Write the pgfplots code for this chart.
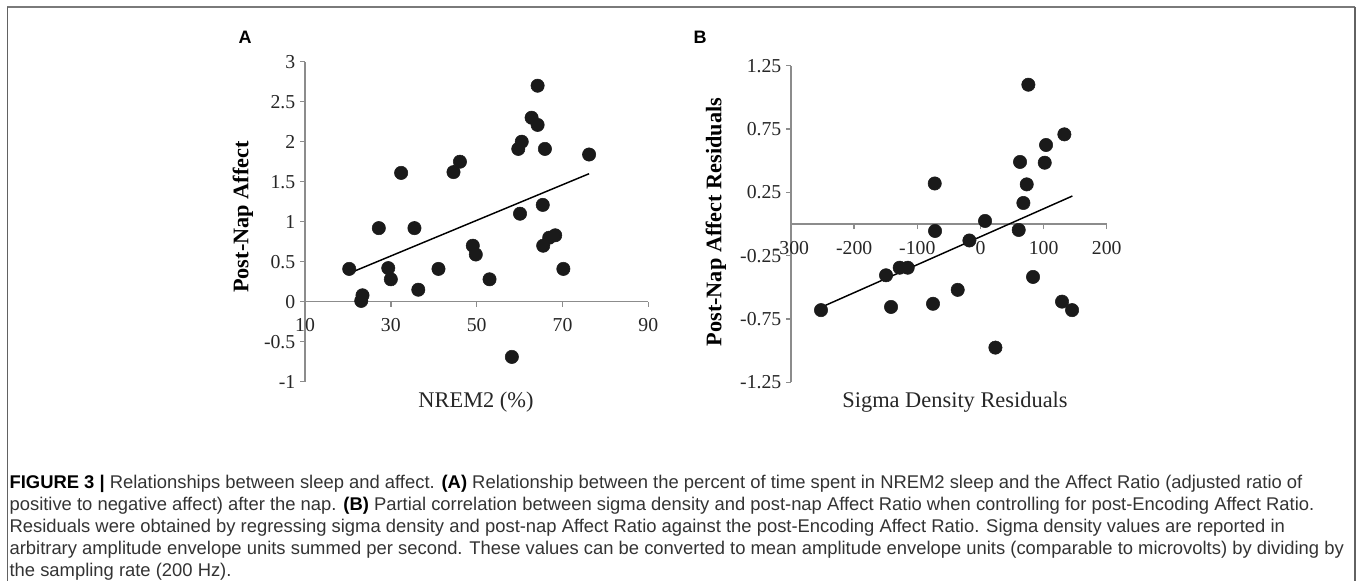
\documentclass[border=0pt]{standalone}
\usepackage{pgfplots}
\pgfplotsset{compat=1.18}
\usepackage{fontspec}
\setmainfont{Liberation Serif}
\newfontfamily\capfont{Liberation Sans}

\definecolor{axgray}{HTML}{8C8C8C}
\definecolor{boxgray}{HTML}{7A7A7A}
\definecolor{dot}{HTML}{1A1A1A}
\definecolor{captext}{HTML}{333333}

\pgfplotsset{
  panel/.style={
    scale only axis,
    axis y line=left,
    axis x line=middle,
    axis line style={draw=axgray, line width=1.1pt, -},
    every tick/.style={draw=axgray, line width=1.1pt},
    tick align=outside,
    major tick length=3.75pt,
    minor tick num=0,
    hide obscured x ticks=false,
    hide obscured y ticks=false,
    clip=false,
    tick label style={font=\fontsize{14.8}{17}\selectfont, text=black!85},
    /pgf/number format/assume math mode=true,
    xticklabel style={yshift=-5.5pt},
  },
  dots/.style={only marks, mark=*, mark size=5pt, mark options={fill=dot, draw=dot}},
  trend/.style={no marks, draw=black, line width=1.1pt},
}

\begin{document}
\begin{tikzpicture}
\path[use as bounding box] (0,0) rectangle (1017.75pt,-435.75pt);

% frame
\draw[boxgray, line width=1.5pt] (5.6pt,-4.95pt) -- (1016.6pt,-4.95pt);
\draw[boxgray!80!black, line width=1pt] (5.85pt,-4.95pt) -- (5.85pt,-435.75pt);
\draw[boxgray!80!black, line width=1pt] (1016.25pt,-4.95pt) -- (1016.25pt,-435.75pt);

% panel A
\begin{axis}[panel,
  at={(228.75pt,-286.28pt)}, anchor=south west,
  width=257.5pt, height=240pt,
  xmin=10, xmax=90, ymin=-1, ymax=3,
  xtick={10,30,50,70,90},
  ytick={-1,-0.5,0,0.5,1,1.5,2,2.5,3},
]
\addplot[dots] coordinates {
(20.3,0.41) (23.4,0.08) (23.1,0.01) (27.2,0.92) (29.4,0.42) (30.0,0.28)
(32.4,1.61) (35.5,0.92) (36.4,0.15) (41.1,0.41) (44.6,1.62) (46.1,1.75)
(49.1,0.70) (49.8,0.59) (53.0,0.28) (58.2,-0.69) (59.7,1.91) (60.5,2.00)
(60.1,1.10) (62.8,2.30) (64.2,2.70) (64.2,2.21) (65.4,1.21) (65.9,1.91)
(65.5,0.70) (66.9,0.80) (68.3,0.83) (70.2,0.41) (76.2,1.84)
};
\addplot[trend] coordinates {(20.5,0.36) (76.2,1.60)};
\end{axis}

% panel B
\begin{axis}[panel,
  at={(593.25pt,-286.73pt)}, anchor=south west,
  width=236.8pt, height=237.45pt,
  xmin=-300, xmax=200, ymin=-1.25, ymax=1.25,
  xtick={-300,-200,-100,0,100,200},
  ytick={-1.25,-0.75,-0.25,0.25,0.75,1.25},
  yticklabel style={/pgf/number format/.cd, fixed, fixed zerofill, precision=2},
]
\addplot[dots] coordinates {
(-252.5,-0.68) (-149.5,-0.405) (-141.6,-0.655) (-127.9,-0.345) (-115.2,-0.345)
(-72.4,0.32) (-71.9,-0.055) (-75.1,-0.63) (-36.0,-0.52) (-17.5,-0.13)
(7.3,0.024) (23.7,-0.976) (60.6,-0.047) (62.7,0.49) (68.0,0.166)
(73.3,0.313) (75.9,1.10) (83.3,-0.418) (101.8,0.484) (103.9,0.624)
(129.2,-0.613) (132.9,0.708) (145.1,-0.68)
};
\addplot[trend] coordinates {(-252.5,-0.658) (145.6,0.221)};
\end{axis}

% panel letters and axis titles
\node[font=\capfont\bfseries\fontsize{13.5}{16}\selectfont] at (183.75pt,-27.75pt) {A};
\node[font=\capfont\bfseries\fontsize{13.5}{16}\selectfont] at (525pt,-27.75pt) {B};
\node[font=\fontsize{16.8}{19}\selectfont, text=black!85] at (357pt,-301.5pt) {NREM2 (\%)};
\node[font=\fontsize{16.8}{19}\selectfont, text=black!85] at (716.25pt,-301.5pt) {Sigma Density Residuals};
\node[font=\bfseries\fontsize{16.7}{19}\selectfont, rotate=90] at (182.25pt,-162.75pt) {Post-Nap Affect};
\node[font=\bfseries\fontsize{16.7}{19}\selectfont, rotate=90] at (537pt,-166.5pt) {Post-Nap Affect Residuals};

% caption
\begin{scope}[every node/.style={anchor=base west, inner sep=0pt, text=captext, font=\capfont\fontsize{13.8}{16}\selectfont}]
\node at (7pt,-366pt) {\textcolor{black}{\textbf{FIGURE 3 |}} Relationships between sleep and affect. \textcolor{black}{\textbf{(A)}} Relationship between the percent of time spent in NREM2 sleep and the Affect Ratio (adjusted ratio of};
\node at (7pt,-382.5pt) {positive to negative affect) after the nap. \textcolor{black}{\textbf{(B)}} Partial correlation between sigma density and post-nap Affect Ratio when controlling for post-Encoding Affect Ratio.};
\node at (7pt,-399pt) {Residuals were obtained by regressing sigma density and post-nap Affect Ratio against the post-Encoding Affect Ratio. Sigma density values are reported in};
\node at (7pt,-415.9pt) {arbitrary amplitude envelope units summed per second. These values can be converted to mean amplitude envelope units (comparable to microvolts) by dividing by};
\node at (7pt,-432pt) {the sampling rate (200 Hz).};
\end{scope}
\end{tikzpicture}
\end{document}
